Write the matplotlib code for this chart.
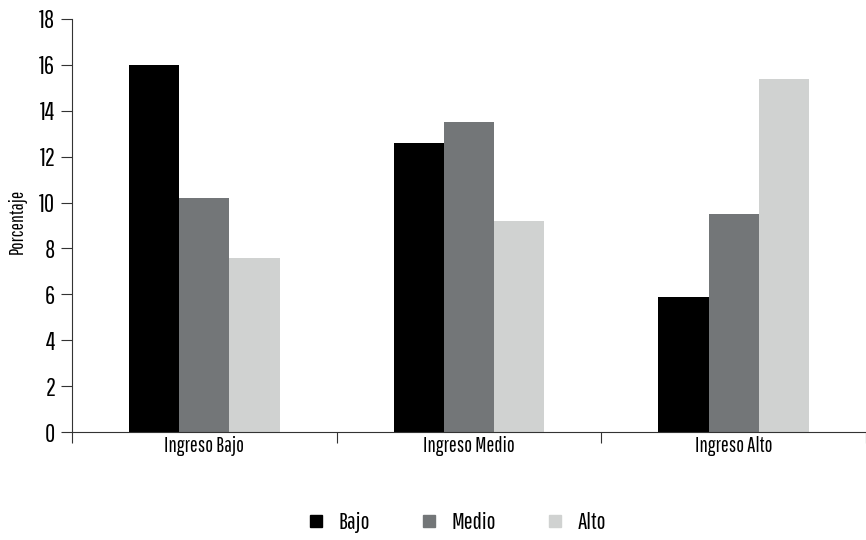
import matplotlib
matplotlib.use("Agg")
import matplotlib.pyplot as plt
import numpy as np
from matplotlib.lines import Line2D

categories = ["Ingreso Bajo", "Ingreso Medio", "Ingreso Alto"]
series_names = ["Bajo", "Medio", "Alto"]
bajo = [16.0, 12.6, 5.9]
medio = [10.2, 13.5, 9.5]
alto = [7.6, 9.2, 15.4]
yticks = [0, 2, 4, 6, 8, 10, 12, 14, 16, 18]

colors = ["#000000", "#737678", "#d0d2d1"]

plt.rcParams['font.family'] = ['Pathway Gothic One', 'DejaVu Sans']

fig = plt.figure(figsize=(8.66, 5.40), dpi=100)
ax = fig.add_axes([72/866, 108/540, (866-72)/866, (432-19)/540])

x = np.arange(len(categories))
w = 0.19
for i, (vals, name) in enumerate(zip([bajo, medio, alto], series_names)):
    ax.bar(x + (i - 1) * w, vals, width=w, color=colors[i], linewidth=0, label=name)

ax.set_xlim(-0.5, 2.5)
ax.set_ylim(0, 18)
ax.set_yticks(yticks)
ax.set_yticklabels([str(t) for t in yticks], fontsize=18)
ax.set_xticks([-0.5, 0.5, 1.5, 2.5])
ax.set_xticklabels([])
ax.set_xticks(x, minor=True)
ax.set_xticklabels(categories, minor=True, fontsize=15)
ax.tick_params(axis='x', which='minor', length=0, pad=3)
ax.tick_params(axis='x', which='major', length=8, width=0.8, color="#333333")
ax.tick_params(axis='y', length=8, width=0.8, color="#333333", pad=4)

for s in ["top", "right"]:
    ax.spines[s].set_visible(False)
for s in ["left", "bottom"]:
    ax.spines[s].set_color("#333333")
    ax.spines[s].set_linewidth(0.8)

ax.set_ylabel("Porcentaje", fontsize=14)
ax.yaxis.set_label_coords(-0.057, 0.51)

handles = [Line2D([0], [0], marker='s', linestyle='none', markersize=9,
                  markerfacecolor=c, markeredgecolor=c) for c in colors]
fig.legend(handles, series_names, loc='center', bbox_to_anchor=(0.527, 0.032),
           ncol=3, frameon=False, fontsize=17, columnspacing=2.1,
           handlelength=0.8, handletextpad=0.55)

fig.savefig("out.png", dpi=100)
